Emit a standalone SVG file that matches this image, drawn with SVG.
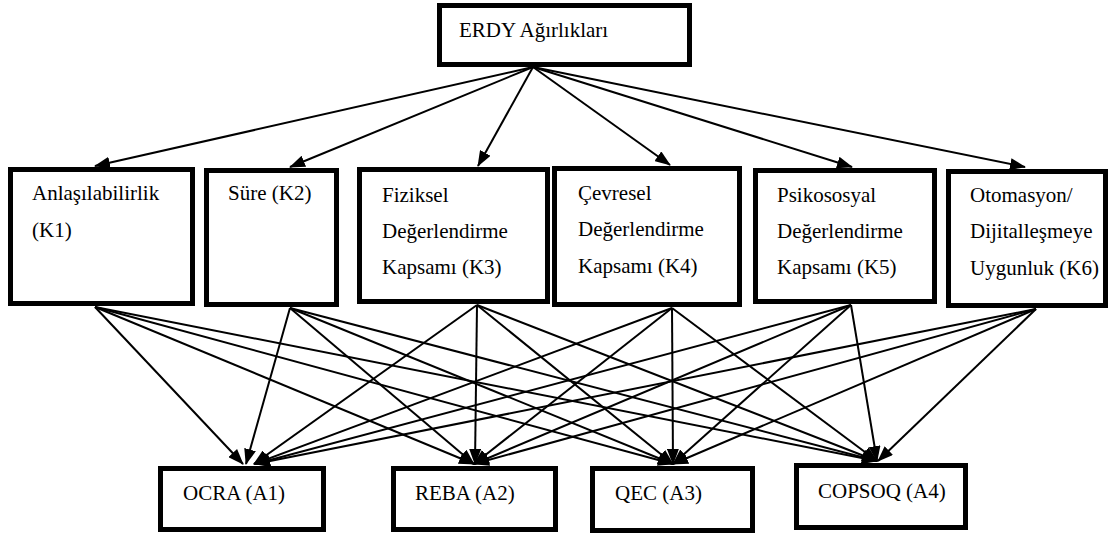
<svg xmlns="http://www.w3.org/2000/svg" width="1114" height="535" viewBox="0 0 1114 535">
  <style>
    .box { fill: #ffffff; stroke: #000000; stroke-width: 5; }
    .lbl { font-family: "Liberation Serif", "Times New Roman", serif; font-size: 21px; fill: #000000; }
    .edge { stroke: #000000; stroke-width: 2; fill: none; marker-end: url(#arrow); }
  </style>
  <defs>
    <marker id="arrow" markerUnits="userSpaceOnUse" markerWidth="16" markerHeight="12" refX="15" refY="6" orient="auto">
      <path d="M0,0 L16,6 L0,12 z" fill="#000000"/>
    </marker>
  </defs>
  <rect width="1114" height="535" fill="#ffffff"/>

  <!-- connectors -->
  <g id="connectors">
    <!-- goal to criteria -->
    <line class="edge" x1="533" y1="67" x2="95" y2="166"/>
    <line class="edge" x1="533" y1="67" x2="290" y2="167"/>
    <line class="edge" x1="533" y1="67" x2="478" y2="166"/>
    <line class="edge" x1="533" y1="67" x2="670" y2="165"/>
    <line class="edge" x1="533" y1="67" x2="852" y2="167"/>
    <line class="edge" x1="533" y1="67" x2="1025" y2="167"/>
    <!-- K1 -->
    <line class="edge" x1="95" y1="307" x2="243" y2="464"/>
    <line class="edge" x1="95" y1="307" x2="474" y2="464"/>
    <line class="edge" x1="95" y1="307" x2="673" y2="464"/>
    <line class="edge" x1="95" y1="307" x2="877" y2="461"/>
    <!-- K2 -->
    <line class="edge" x1="290" y1="308" x2="246" y2="464"/>
    <line class="edge" x1="290" y1="308" x2="474" y2="464"/>
    <line class="edge" x1="290" y1="308" x2="673" y2="464"/>
    <line class="edge" x1="290" y1="308" x2="877" y2="461"/>
    <!-- K3 -->
    <line class="edge" x1="477" y1="305" x2="254" y2="464"/>
    <line class="edge" x1="477" y1="305" x2="475" y2="464"/>
    <line class="edge" x1="477" y1="305" x2="673" y2="464"/>
    <line class="edge" x1="477" y1="305" x2="877" y2="461"/>
    <!-- K4 -->
    <line class="edge" x1="672" y1="308" x2="254" y2="464"/>
    <line class="edge" x1="672" y1="308" x2="474" y2="464"/>
    <line class="edge" x1="672" y1="308" x2="673" y2="464"/>
    <line class="edge" x1="672" y1="308" x2="877" y2="461"/>
    <!-- K5 -->
    <line class="edge" x1="851" y1="305" x2="255" y2="464"/>
    <line class="edge" x1="851" y1="305" x2="474" y2="464"/>
    <line class="edge" x1="851" y1="305" x2="673" y2="464"/>
    <line class="edge" x1="851" y1="305" x2="877" y2="461"/>
    <!-- K6 -->
    <line class="edge" x1="1036" y1="309" x2="255" y2="464"/>
    <line class="edge" x1="1036" y1="309" x2="474" y2="464"/>
    <line class="edge" x1="1036" y1="309" x2="673" y2="464"/>
    <line class="edge" x1="1036" y1="309" x2="878" y2="461"/>
  </g>

  <!-- goal -->
  <g id="goal">
    <rect class="box" x="439.5" y="5.5" width="250" height="59"/>
    <text class="lbl" x="459" y="37">ERDY Ağırlıkları</text>
  </g>

  <!-- criteria -->
  <g id="k1">
    <rect class="box" x="10.5" y="169.5" width="182" height="134"/>
    <text class="lbl" x="32" y="200">Anlaşılabilirlik</text>
    <text class="lbl" x="32" y="237">(K1)</text>
  </g>
  <g id="k2">
    <rect class="box" x="206.5" y="170.5" width="130" height="134"/>
    <text class="lbl" x="228" y="200">Süre (K2)</text>
  </g>
  <g id="k3">
    <rect class="box" x="359.5" y="169.5" width="188" height="132"/>
    <text class="lbl" x="382" y="202">Fiziksel</text>
    <text class="lbl" x="382" y="238">Değerlendirme</text>
    <text class="lbl" x="382" y="274">Kapsamı (K3)</text>
  </g>
  <g id="k4">
    <rect class="box" x="554.5" y="168.5" width="185" height="136"/>
    <text class="lbl" x="578" y="200">Çevresel</text>
    <text class="lbl" x="578" y="236">Değerlendirme</text>
    <text class="lbl" x="578" y="273">Kapsamı (K4)</text>
  </g>
  <g id="k5">
    <rect class="box" x="755.5" y="170.5" width="179" height="131"/>
    <text class="lbl" x="777" y="202">Psikososyal</text>
    <text class="lbl" x="777" y="238">Değerlendirme</text>
    <text class="lbl" x="777" y="274">Kapsamı (K5)</text>
  </g>
  <g id="k6">
    <rect class="box" x="948.5" y="171.5" width="157" height="134"/>
    <text class="lbl" x="970" y="202">Otomasyon/</text>
    <text class="lbl" x="970" y="238">Dijitalleşmeye</text>
    <text class="lbl" x="970" y="275">Uygunluk (K6)</text>
  </g>

  <!-- alternatives -->
  <g id="a1">
    <rect class="box" x="160.5" y="468.5" width="163" height="61"/>
    <text class="lbl" x="183" y="500">OCRA (A1)</text>
  </g>
  <g id="a2">
    <rect class="box" x="393.5" y="468.5" width="162" height="61"/>
    <text class="lbl" x="415" y="500">REBA (A2)</text>
  </g>
  <g id="a3">
    <rect class="box" x="592.5" y="468.5" width="160" height="62"/>
    <text class="lbl" x="615" y="500">QEC (A3)</text>
  </g>
  <g id="a4">
    <rect class="box" x="796.5" y="465.5" width="169" height="62"/>
    <text class="lbl" x="818" y="498">COPSOQ (A4)</text>
  </g>
</svg>
